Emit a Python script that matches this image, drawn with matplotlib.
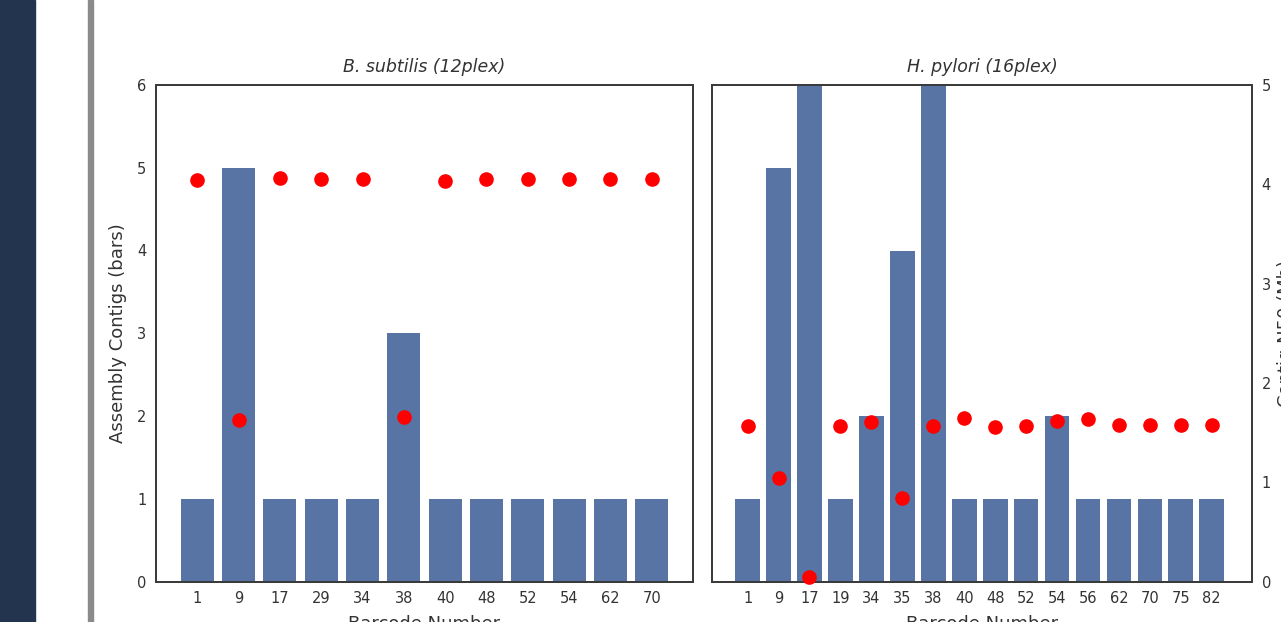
import matplotlib
matplotlib.use('Agg')
import matplotlib.pyplot as plt
import numpy as np

# data
bsub_barcodes = ['1', '9', '17', '29', '34', '38', '40', '48', '52', '54', '62', '70']
bsub_contigs = [1, 5, 1, 1, 1, 3, 1, 1, 1, 1, 1, 1]
bsub_n50 = [4.04, 1.63, 4.06, 4.05, 4.05, 1.66, 4.03, 4.05, 4.05, 4.05, 4.05, 4.05]

hpyl_barcodes = ['1', '9', '17', '19', '34', '35', '38', '40', '48', '52', '54', '56', '62', '70', '75', '82']
hpyl_contigs = [1, 5, 6, 1, 2, 4, 6, 1, 1, 1, 2, 1, 1, 1, 1, 1]
hpyl_n50 = [1.57, 1.04, 0.05, 1.57, 1.61, 0.84, 1.57, 1.65, 1.56, 1.57, 1.62, 1.64, 1.58, 1.58, 1.58, 1.58]

BAR_COLOR = '#5874a4'
SPINE_COLOR = '#3a3a3a'
TEXT_COLOR = '#333333'


def style_axes(ax):
    for s in ax.spines.values():
        s.set_color(SPINE_COLOR)
        s.set_linewidth(1.3)
    ax.tick_params(length=0, labelsize=10.5, colors=TEXT_COLOR, pad=7)


def panel(fig, rect, title, barcodes, contigs, n50, xlim, left_labels, right_labels):
    ax = fig.add_axes(rect)
    x = np.arange(len(barcodes))
    ax.bar(x, contigs, width=0.8, color=BAR_COLOR, zorder=2)
    ax.set_xlim(*xlim)
    ax.set_ylim(0, 6)
    ax.set_yticks(range(7))
    ax.set_xticks(x)
    ax.set_xticklabels(barcodes)
    ax.set_xlabel('Barcode Number', fontsize=13, color=TEXT_COLOR, labelpad=6)
    ax.set_title(title, fontsize=12.5, style='italic', color=TEXT_COLOR, pad=9)
    if left_labels:
        ax.set_ylabel('Assembly Contigs (bars)', fontsize=13, color=TEXT_COLOR, labelpad=7)
    else:
        ax.set_yticklabels([])
    style_axes(ax)

    ax2 = ax.twinx()
    ax2.plot(x, n50, 'o', color='red', markersize=9.5, zorder=3, clip_on=False)
    ax2.set_ylim(0, 5)
    ax2.set_yticks(range(6))
    if right_labels:
        ax2.set_ylabel('Contig N50 (Mb)', fontsize=13, color=TEXT_COLOR, labelpad=4)
    else:
        ax2.set_yticklabels([])
    style_axes(ax2)
    return ax, ax2


def main():
    fig = plt.figure(figsize=(12.81, 6.22), dpi=100)
    plt.rcParams['font.family'] = ['DejaVu Sans']

    # slide decorations: navy band on the left and gray divider
    fig.patches.append(plt.Rectangle((0, 0), 35 / 1281, 1, transform=fig.transFigure,
                                     color='#23344f', zorder=0))
    fig.patches.append(plt.Rectangle((88 / 1281, 0), 5 / 1281, 1, transform=fig.transFigure,
                                     color='#8a8a8a', zorder=0))

    bottom = (622 - 581.5) / 622
    height = (581.5 - 85) / 622
    panel(fig, [156 / 1281, bottom, 537 / 1281, height], 'B. subtilis (12plex)',
          bsub_barcodes, bsub_contigs, bsub_n50, (-1, 12), True, False)
    panel(fig, [712 / 1281, bottom, 540 / 1281, height], 'H. pylori (16plex)',
          hpyl_barcodes, hpyl_contigs, hpyl_n50, (-1.15, 16.3), False, True)

    fig.savefig('out.png', dpi=100)


if __name__ == '__main__':
    main()
